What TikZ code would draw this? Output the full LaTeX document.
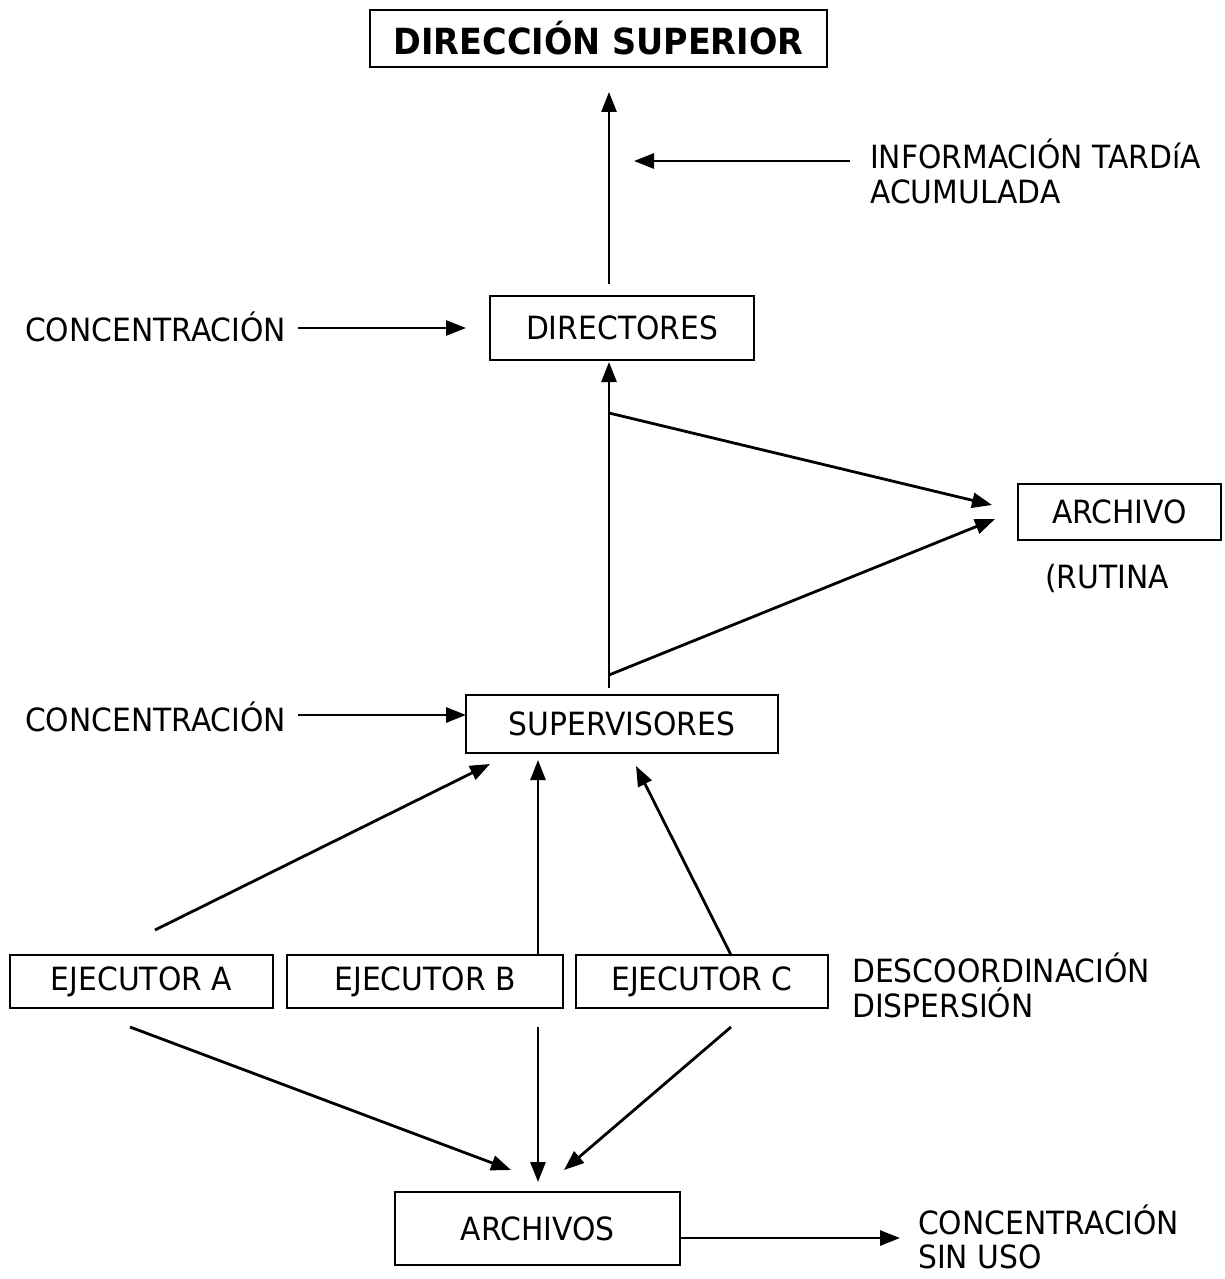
\documentclass[tikz,border=0pt]{standalone}
\usepackage{fontspec}
\setmainfont[FakeStretch=0.93]{DejaVu Sans}
\usetikzlibrary{arrows.meta}
\begin{document}
\begin{tikzpicture}[x=1pt,y=-1pt,
  font=\fontsize{32}{35}\selectfont,
  box/.style={draw, line width=1.6pt, inner sep=0pt, minimum width=#1},
  lbl/.style={anchor=west, align=left, inner sep=0pt, font=\fontsize{32}{35}\selectfont},
  arr/.style={line width=2.8pt, -{Triangle[length=20pt,width=15pt]}}]
\useasboundingbox (0,0) rectangle (1225,1279);
% boxes
\node[box=457pt, minimum height=57pt, font=\fontsize{36}{40}\selectfont\bfseries] (top) at (598.5,38.5) {DIRECCIÓN SUPERIOR};
\node[box=264pt, minimum height=64pt] (dir) at (622,328) {DIRECTORES};
\node[box=203pt, minimum height=56pt] (arch) at (1119.5,512) {ARCHIVO};
\node[box=312pt, minimum height=58pt] (sup) at (622,724) {SUPERVISORES};
\node[box=263pt, minimum height=53pt] (eja) at (141.5,981.5) {EJECUTOR A};
\node[box=276pt, minimum height=53pt] (ejb) at (425,981.5) {EJECUTOR B};
\node[box=252pt, minimum height=53pt] (ejc) at (702,981.5) {EJECUTOR C};
\node[box=285pt, minimum height=73pt] (archs) at (537.5,1228.5) {ARCHIVOS};
% labels
\node[lbl] (info) at (870,171) {INFORMACIÓN TARDíA\\ACUMULADA};
\node[lbl] (conc1) at (25,327) {CONCENTRACIÓN};
\node[lbl] (rut) at (1045,578) {(RUTINA};
\node[lbl] (conc2) at (25,717) {CONCENTRACIÓN};
\node[lbl] (desc) at (852,985) {DESCOORDINACIÓN\\DISPERSIÓN};
\node[lbl] (conc3) at (918,1237) {CONCENTRACIÓN\\[-1pt]SIN USO};
% coordinates
\coordinate (d1) at (609,284);
\coordinate (d1t) at (609,92);
\coordinate (i1) at (850,161);
\coordinate (i1t) at (634,161);
\coordinate (c1) at (298,328);
\coordinate (c1t) at (466,328);
\coordinate (s1) at (609,688);
\coordinate (s1t) at (609,362);
\coordinate (b1) at (609,413);
\coordinate (b1t) at (992,505);
\coordinate (b2) at (609,675);
\coordinate (b2t) at (995,519);
\coordinate (c2) at (298,715);
\coordinate (c2t) at (466,715);
\coordinate (ea) at (155,930);
\coordinate (eat) at (490,764);
\coordinate (eb) at (538,955);
\coordinate (ebt) at (538,760);
\coordinate (ec) at (731,955);
\coordinate (ect) at (636,766);
\coordinate (fa) at (130,1027);
\coordinate (fat) at (511,1170);
\coordinate (fb) at (538,1027);
\coordinate (fbt) at (538,1182);
\coordinate (fc) at (731,1027);
\coordinate (fct) at (564,1170);
\coordinate (g1t) at (900,1238);
% connectors
\draw[arr] (d1) -- (d1t);
\draw[arr] (i1) -- (i1t);
\draw[arr] (c1) -- (c1t);
\draw[arr] (s1) -- (s1t);
\draw[arr] (b1) -- (b1t);
\draw[arr] (b2) -- (b2t);
\draw[arr] (c2) -- (c2t);
\draw[arr] (ea) -- (eat);
\draw[arr] (eb) -- (ebt);
\draw[arr] (ec) -- (ect);
\draw[arr] (fa) -- (fat);
\draw[arr] (fb) -- (fbt);
\draw[arr] (fc) -- (fct);
\draw[arr] (archs.east |- g1t) -- (g1t);
\end{tikzpicture}
\end{document}
